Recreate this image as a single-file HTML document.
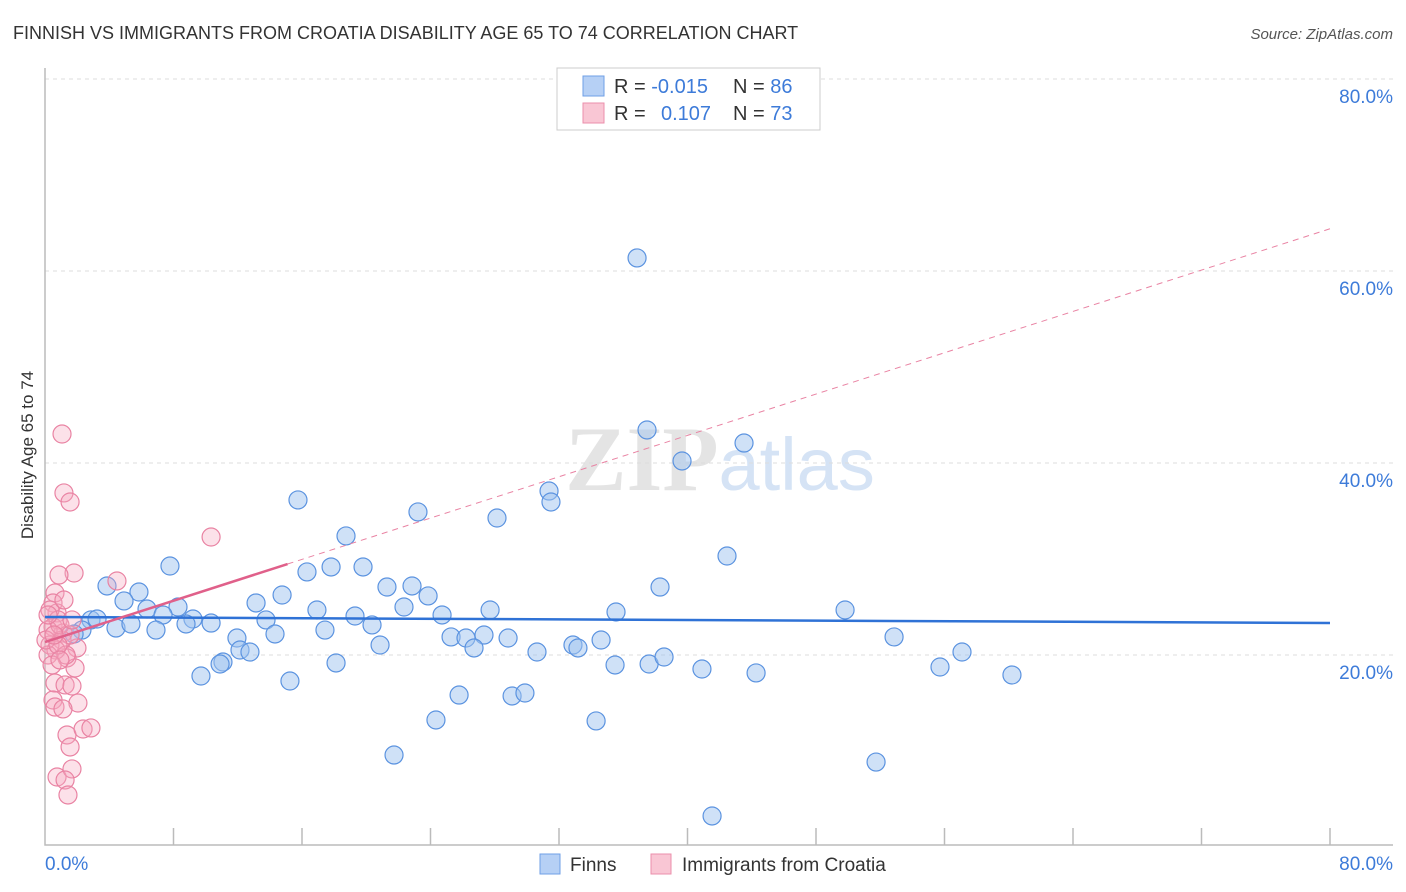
<!DOCTYPE html>
<html><head><meta charset="utf-8"><style>
body{margin:0;background:#fff;font-family:"Liberation Sans",sans-serif}
</style></head><body>
<svg id="chart" width="1406" height="892" xmlns="http://www.w3.org/2000/svg" style="display:block">
<text x="13" y="39" font-size="18" fill="#333">FINNISH VS IMMIGRANTS FROM CROATIA DISABILITY AGE 65 TO 74 CORRELATION CHART</text>
<text x="1393" y="39" font-size="15" fill="#555" font-style="italic" text-anchor="end">Source: ZipAtlas.com</text>
<text x="720" y="490" font-size="92" text-anchor="middle" fill="#e4e4e4" font-family="Liberation Serif,serif" font-weight="bold">ZIP<tspan fill="#d5e3f5" font-family="Liberation Sans,sans-serif" font-weight="normal" font-size="74">atlas</tspan></text>
<text transform="translate(33,455) rotate(-90)" font-size="17" fill="#333" text-anchor="middle">Disability Age 65 to 74</text>
<g id="grid"></g><g id="axes"></g><g id="pts"></g><g id="trend"></g>
<g>
<rect x="557" y="68" width="263" height="62" fill="#fff" stroke="#ccc"/>
<rect x="583" y="76" width="21" height="20" fill="#b6d0f5" stroke="#6f9fe6"/>
<text x="614" y="93" font-size="20" fill="#333">R = <tspan fill="#3d7bd9">-0.015</tspan><tspan x="733">N = </tspan><tspan fill="#3d7bd9">86</tspan></text>
<rect x="583" y="103" width="21" height="20" fill="#f9c6d4" stroke="#eb8fab"/>
<text x="614" y="120" font-size="20" fill="#333">R = <tspan x="661" fill="#3d7bd9">0.107</tspan><tspan x="733">N = </tspan><tspan fill="#3d7bd9">73</tspan></text>
</g>
<g>
<rect x="540" y="854" width="20" height="20" fill="#b6d0f5" stroke="#6f9fe6"/>
<text x="570" y="871" font-size="19" fill="#333">Finns</text>
<rect x="651" y="854" width="20" height="20" fill="#f9c6d4" stroke="#eb8fab"/>
<text x="682" y="871" font-size="19" fill="#333">Immigrants from Croatia</text>
</g>
</svg>
<script>
const yTicks=[20,40,60,80];
const yTickLabels=["20.0%","40.0%","60.0%","80.0%"];
const xTickLabels=["0.0%","80.0%"];
const finnsX=[36.86,37.48,39.66,43.52,31.38,31.50,15.75,23.22,28.14,18.74,42.46,7.78,16.31,17.81,19.80,3.86,5.85,21.29,22.85,38.29,23.85,4.92,13.14,14.76,6.35,8.28,16.93,22.35,27.71,35.55,49.81,7.35,9.21,24.72,19.30,2.86,3.24,4.42,5.35,6.91,8.78,10.34,13.76,20.36,17.43,2.30,1.81,11.95,14.32,25.28,26.21,27.33,28.83,32.87,34.62,52.86,12.14,12.76,20.86,26.71,33.18,30.63,57.09,11.08,10.90,18.12,35.49,37.61,38.54,40.90,44.27,55.72,60.20,9.71,15.25,25.78,29.08,29.88,24.34,34.31,21.73,51.74,41.53];
const finnsY=[61.36,43.44,40.21,42.08,37.08,35.94,36.15,34.90,34.27,32.40,30.31,29.27,28.65,29.17,29.17,27.19,26.56,27.08,27.19,27.08,26.15,25.63,25.42,26.25,24.79,25.00,24.69,25.00,24.69,24.48,24.69,24.17,23.75,24.17,24.06,23.65,23.75,22.81,23.23,22.60,23.23,23.33,23.65,23.13,22.60,22.60,22.19,21.77,22.19,21.88,21.77,22.08,21.77,21.04,21.56,21.88,20.52,20.31,21.04,20.73,20.73,20.31,20.31,19.27,19.06,19.17,18.96,19.06,19.79,18.54,18.13,18.75,17.92,17.81,17.29,15.83,15.73,16.04,13.23,13.13,9.58,8.85,3.23];
const croX=[1.06,1.18,1.56,10.34,1.81,0.87,4.48,0.62,0.50,0.75,0.50,1.12,1.99,1.37,1.87,0.62,1.25,1.68,0.50,2.05,0.62,1.12,1.37,2.37,2.86,1.56,0.75,1.68,1.25,1.43,0.31,0.81,0.19,1.06,0.31,0.68,1.31,0.19,0.93,1.56,0.44,1.18,0.06,0.81,1.68,0.56,0.19,0.93];
const croY=[43.02,36.88,35.94,32.29,28.54,28.33,27.71,26.46,25.42,24.38,22.92,22.29,20.73,19.69,18.65,17.08,16.88,16.77,15.31,15.00,14.58,14.38,11.67,12.29,12.40,10.42,7.29,8.13,6.98,5.42,24.69,23.65,22.60,21.56,21.04,20.52,20.00,20.00,23.13,22.08,18.96,25.73,21.56,21.04,23.65,22.08,24.17,19.48];
const finnsTrend=[23.96,23.33];
const croTrend=[21.35,64.4];
const croSolidEnd=15.1;
const NS="http://www.w3.org/2000/svg";
const X=v=>45+v/80*1285, Y=v=>847-v*9.6;
function mk(t,a,p){const e=document.createElementNS(NS,t);for(const k in a)e.setAttribute(k,a[k]);p.appendChild(e);return e;}
const grid=document.getElementById('grid'),axes=document.getElementById('axes'),pts=document.getElementById('pts'),tr=document.getElementById('trend');
yTicks.forEach((t,i)=>{
 const l=mk('line',{x1:45,x2:1393,y1:Y(t),y2:Y(t),stroke:'#ddd','stroke-dasharray':'4,4'},grid);
 
 
 const tx=mk('text',{x:1393,y:Y(t)+24,'font-size':19,fill:'#3d7bd9','text-anchor':'end'},grid);tx.textContent=yTickLabels[i];
 
 
});
const ax=mk('path',{d:'M45 68V845H1393',fill:'none',stroke:'#bbb','stroke-width':1.5},axes);


for(let i=1;i<=10;i++){const tk=mk('line',{x1:X(i*8),x2:X(i*8),y1:828,y2:845,stroke:'#bbb','stroke-width':1.5},axes);
 
 }
[[0,'start',45],[80,'end',1393]].forEach((d,i)=>{const t=mk('text',{x:d[2],y:870,'font-size':19,fill:'#3d7bd9','text-anchor':d[1]},axes);t.textContent=xTickLabels[i];
 
 });
finnsX.forEach((x,i)=>{const c=mk('circle',{cx:X(x),cy:Y(finnsY[i]),r:9,fill:'rgba(160,195,240,0.5)',stroke:'#5b93e0','stroke-width':1.2},pts);
 
 });
croX.forEach((x,i)=>{const c=mk('circle',{cx:X(x),cy:Y(croY[i]),r:9,fill:'rgba(245,170,192,0.35)',stroke:'#e983a3','stroke-width':1.2},pts);
 
 });
const bl=mk('line',{x1:X(0),y1:Y(finnsTrend[0]),x2:X(80),y2:Y(finnsTrend[1]),stroke:'#2f72d6','stroke-width':2.5},tr);


const cy=x=>croTrend[0]+(croTrend[1]-croTrend[0])*x/80;
const pd=mk('line',{x1:X(croSolidEnd),y1:Y(cy(croSolidEnd)),x2:X(80),y2:Y(cy(80)),stroke:'#e983a3','stroke-width':1,'stroke-dasharray':'6,5'},tr);


const ps=mk('line',{x1:X(0),y1:Y(cy(0)),x2:X(croSolidEnd),y2:Y(cy(croSolidEnd)),stroke:'#e0608a','stroke-width':2.5},tr);


</script>
</body></html>
